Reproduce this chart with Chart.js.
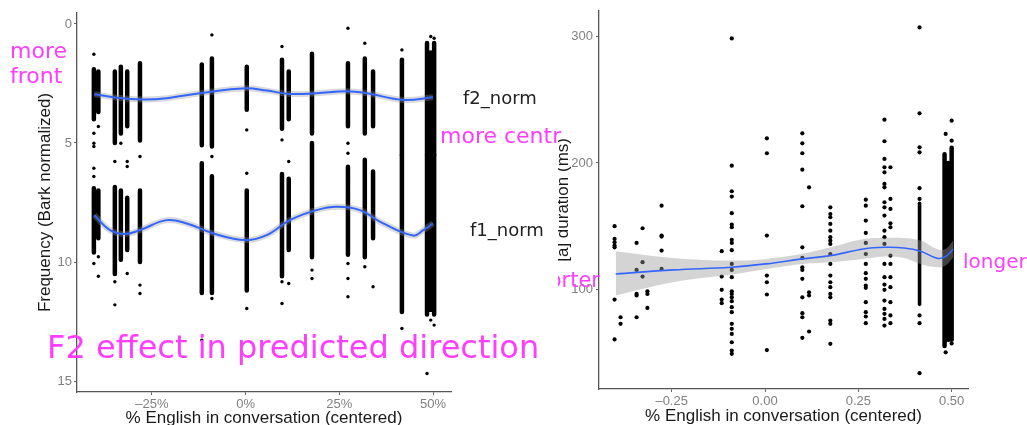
<!DOCTYPE html>
<html>
<head>
<meta charset="utf-8">
<script src="https://cdn.jsdelivr.net/npm/chart.js@4.4.1/dist/chart.umd.min.js"></script>
<style>
  html, body { margin: 0; padding: 0; background: #fff; }
  #wrap { position: relative; width: 1027px; height: 425px; overflow: hidden; }
  #leftBox { position: absolute; left: 0; top: 0; width: 558px; height: 425px; z-index: 2; background: #fff; }
  #rightBox { position: absolute; left: 540px; top: 0; width: 487px; height: 425px; z-index: 1; }
</style>
</head>
<body>
<div id="wrap">
  <div id="rightBox"><canvas id="right" width="487" height="425"></canvas></div>
  <div id="leftBox"><canvas id="left" width="558" height="425"></canvas></div>
</div>
<script>
// ---- left panel: formants (Bark normalized) ----
const leftXTicks = [-0.25, 0, 0.25, 0.5];
const leftXLabels = ['–25%', '0%', '25%', '50%'];
const leftYTicks = [0, 5, 10, 15];

// dense columns of points: [x, from, to]
const f2Bands = [[-0.405,1.9,4.0],[-0.393,2.0,3.7],[-0.349,2.0,5.0],[-0.333,1.8,4.6],[-0.316,2.0,4.3],
  [-0.282,1.65,4.9],[-0.117,1.7,5.1],[-0.09,1.45,5.15],[0.003,1.8,3.6],[0.097,1.5,4.4],[0.115,2.0,4.0],
  [0.177,1.25,4.6],[0.273,1.65,4.3],[0.318,1.45,4.6],[0.34,2.0,4.3],[0.417,1.5,5.5],[0.484,0.8,5.5],
  [0.494,1.2,5.5],[0.503,0.8,5.5]];
const f1Bands = [[-0.405,6.9,9.6],[-0.393,7.0,9.0],[-0.349,6.85,10.5],[-0.333,7.0,9.9],[-0.316,7.3,9.5],
  [-0.282,7.0,10.0],[-0.117,5.85,11.3],[-0.09,6.4,11.3],[0.003,7.0,11.2],[0.097,6.3,10.6],[0.115,6.5,9.5],
  [0.177,5.0,9.8],[0.273,6.0,9.7],[0.318,5.7,9.8],[0.34,6.2,9.0],[0.417,5.5,12.1],[0.484,5.5,12.2],
  [0.494,5.5,12.0],[0.503,5.5,12.2]];
// single points outside the dense parts
const f2Points = [[-0.405,1.27],[-0.393,4.31],[-0.405,4.59],[-0.405,5.01],[-0.405,5.15],[-0.349,5.78],
  [-0.333,5.01],[-0.316,5.78],[-0.316,5.99],[-0.282,5.57],[-0.09,0.46],[-0.09,5.57],[0.003,4.45],
  [0.097,0.95],[0.097,4.87],[0.273,0.18],[0.273,5.01],[0.273,5.43],[0.318,0.81],[0.417,1.09],
  [0.494,0.53],[0.503,0.6]];
const f1Points = [[-0.405,6.06],[-0.405,6.41],[-0.405,10.06],[-0.393,10.6],[-0.393,9.78],[-0.349,10.83],
  [-0.349,11.8],[-0.316,10.48],[-0.282,10.97],[-0.282,11.32],[-0.117,13.28],[-0.09,11.53],[0.003,6.27],
  [0.003,11.95],[0.097,11.74],[0.097,10.83],[0.115,5.78],[0.115,10.9],[0.177,10.34],[0.177,10.69],
  [0.273,10.06],[0.273,10.69],[0.273,11.46],[0.318,10.2],[0.34,11.04],[0.417,12.79],[0.494,12.44],
  [0.503,12.65],[0.484,14.68]];
// loess curves
const f2Smooth = [[-0.404,2.95],[-0.344,3.10],[-0.273,3.17],[-0.211,3.12],[-0.122,2.91],[0.0,2.70],
  [0.056,2.80],[0.118,2.94],[0.189,2.91],[0.269,2.83],[0.323,2.91],[0.42,3.19],[0.50,3.08]];
const f1Smooth = [[-0.404,8.03],[-0.362,8.66],[-0.322,8.82],[-0.282,8.66],[-0.211,8.24],[-0.157,8.38],
  [-0.086,8.80],[0.0,9.08],[0.056,8.87],[0.118,8.24],[0.189,7.82],[0.243,7.68],[0.305,7.82],
  [0.367,8.38],[0.447,8.89],[0.474,8.66],[0.50,8.38]];

// ---- right panel: duration (ms) ----
const rightXTicks = [-0.25, 0, 0.25, 0.5];
const rightXLabels = ['–0.25', '0.00', '0.25', '0.50'];
const rightYTicks = [100, 200, 300];

const durColumns = [
  [-0.403, [149.9,139.8,137.2,134.6,133.2,91.8,60.2]],
  [-0.387, [77.8,72.6]],
  [-0.344, [136.7,115.3,96.3,95.0,77.8]],
  [-0.328, [148.3,121.4,110.0]],
  [-0.315, [98.4,96.3,85.2]],
  [-0.277, [166.2,142.5,141.7,130.6,116.1]],
  [-0.116, [130.1,110.0,99.5,91.8,88.9]],
  [-0.089, [298.7,197.9,177.6,173.4,160.2,151.2,149.1,139.1,136.7,130.9,120.0,115.3,109.5,98.4,96.3,
            93.6,90.5,85.8,81.8,72.6,68.6,64.6,58.0,51.4,48.8]],
  [0.005, [219.5,207.7,142.5,110.8,105.5,95.8,51.8]],
  [0.100, [223.5,215.6,207.7,194.7,165.7,133.2,124.8,117.4,115.3,108.2,93.6,81.0,77.8,61.5]],
  [0.118, [180.7,97.6,95.0,66.5]],
  [0.175, [164.9,159.6,157.0,151.7,146.4,141.2,138.5,135.9,127.9,120.0,110.8,105.5,101.6,96.3,93.6,
           75.2,72.6,56.7]],
  [0.270, [170.9,166.2,154.4,144.6,136.7,127.9,120.0,112.7,108.2,102.9,101.1,89.7,81.8,78.4,73.1]],
  [0.320, [234.3,217.2,203.2,196.6,192.6,183.4,180.7,168.9,164.9,158.3,146.4,141.2,135.9,120.0,109.5,
           103.7,99.5,91.0,84.4,80.5,76.5,71.2]],
  [0.336, [196.6,171.5,163.6,152.2,149.1,126.6,120.0,109.5,101.6,89.7,79.2,73.1]],
  [0.414, [307.4,239.3,212.4,208.4,180.0,171.5,79.2,73.1,33.5]],
  [0.484, [223.0,50.0]],
  [0.500, [233.5,217.7,57.0]]
];
const durMidBands = [[0.414,88,168]];
const durEdgeBands = [[0.481,55,207],[0.491,60,200],[0.500,60,212]];
const durSmooth = [[-0.400,112.1],[-0.246,115.3],[-0.090,117.4],[0.004,120.1],[0.099,124.0],[0.175,126.6],
  [0.264,131.9],[0.321,133.2],[0.372,132.7],[0.417,130.1],[0.461,124.5],[0.484,125.9],[0.504,131.9]];
const durUpper = [[-0.400,130.1],[-0.246,124.8],[-0.090,122.7],[0.004,124.0],[0.099,128.0],[0.175,133.2],
  [0.264,139.8],[0.321,140.6],[0.372,140.6],[0.417,138.5],[0.461,131.9],[0.484,131.9],[0.504,138.5]];
const durLower = [[-0.400,95.0],[-0.246,105.5],[-0.090,111.6],[0.004,116.0],[0.099,120.0],[0.175,121.4],
  [0.264,124.0],[0.321,125.9],[0.372,124.8],[0.417,120.0],[0.461,117.4],[0.484,118.7],[0.504,125.3]];

const MAGENTA = '#ff3dff';
const BLUE = '#3366ff';

const xy = arr => arr.map(([x, y]) => ({x, y}));
const bandData = bands => bands.flatMap(([x, lo, hi]) => [{x, y: lo}, {x, y: hi}, {x, y: null}]);
const colPoints = cols => cols.flatMap(([x, ys]) => ys.map(y => ({x, y})));

// text notes drawn on top of the plot
const notes = items => ({
  id: 'notes',
  afterDraw(chart) {
    const ctx = chart.ctx;
    ctx.save();
    items.forEach(t => {
      ctx.font = t.font;
      ctx.fillStyle = t.color;
      ctx.textAlign = t.align || 'left';
      ctx.textBaseline = 'alphabetic';
      ctx.fillText(t.text, t.x, t.y);
    });
    ctx.restore();
  }
});

const line = (data, color, width) => ({
  data, showLine: true, borderColor: color, borderWidth: width, pointRadius: 0,
  tension: 0.4, fill: false
});
const band = (data, width) => ({
  data, showLine: true, borderColor: '#000', borderWidth: width, borderCapStyle: 'round',
  pointRadius: 0, spanGaps: false, tension: 0
});
const dots = (data, r) => ({
  data, pointRadius: r, pointBackgroundColor: '#000', pointBorderWidth: 0, showLine: false
});

const tickFont = {family: 'Liberation Sans', size: 13};
const titleFont = {family: 'Liberation Sans', size: 17};
const xTitleFont = {family: 'Liberation Sans', size: 17, lineHeight: 0.8};

new Chart(document.getElementById('left'), {
  type: 'scatter',
  data: {
    datasets: [
      line(xy(f2Smooth), BLUE, 2),
      line(xy(f1Smooth), BLUE, 2),
      line(xy(f2Smooth), 'rgba(150,150,150,0.35)', 6),
      line(xy(f1Smooth), 'rgba(150,150,150,0.35)', 6),
      band(bandData(f2Bands), 4.5),
      band(bandData(f1Bands), 4.5),
      dots(xy(f2Points), 1.7),
      dots(xy(f1Points), 1.7)
    ]
  },
  options: {
    responsive: false, animation: false, devicePixelRatio: 1,
    layout: {padding: {top: 13, right: 107, left: 0, bottom: 0}},
    plugins: {legend: {display: false}, tooltip: {enabled: false}},
    scales: {
      x: {
        type: 'linear', min: -0.450, max: 0.548,
        afterBuildTicks: s => { s.ticks = leftXTicks.map(v => ({value: v})); },
        afterFit: s => { s.height = 33; },
        ticks: {callback: (v, i) => leftXLabels[i], font: tickFont, color: '#808080', padding: 2,
                maxRotation: 0, autoSkip: false},
        grid: {drawOnChartArea: false, tickLength: 3, color: '#666'},
        border: {color: '#555', width: 1.3},
        title: {display: true, text: '% English in conversation (centered)', font: xTitleFont,
                color: '#1a1a1a', padding: {top: 0, bottom: 0}}
      },
      y: {
        type: 'linear', reverse: true, min: -0.46, max: 15.46,
        afterBuildTicks: s => { s.ticks = leftYTicks.map(v => ({value: v})); },
        afterFit: s => { s.width = 77; },
        ticks: {font: tickFont, color: '#808080', padding: 2, autoSkip: false},
        grid: {drawOnChartArea: false, tickLength: 3, color: '#666'},
        border: {color: '#555', width: 1.3},
        title: {display: true, text: 'Frequency (Bark normalized)', font: titleFont,
                color: '#1a1a1a', padding: {top: 35, bottom: 0}}
      }
    }
  },
  plugins: [notes([
    {text: 'more', x: 10, y: 58, font: '22px "DejaVu Sans"', color: MAGENTA},
    {text: 'front', x: 10, y: 83, font: '22px "DejaVu Sans"', color: MAGENTA},
    {text: 'f2_norm', x: 463, y: 104, font: '18px "DejaVu Sans"', color: '#222'},
    {text: 'f1_norm', x: 470, y: 236, font: '18px "DejaVu Sans"', color: '#222'},
    {text: 'more centr', x: 440, y: 143, font: '22px "DejaVu Sans"', color: MAGENTA},
    {text: 'F2 effect in predicted direction', x: 47, y: 358, font: '32px "DejaVu Sans"', color: MAGENTA}
  ])]
});

new Chart(document.getElementById('right'), {
  type: 'scatter',
  data: {
    datasets: [
      line(xy(durSmooth), BLUE, 1.6),
      {data: xy(durUpper), showLine: true, borderWidth: 0, pointRadius: 0, tension: 0.4,
       fill: '+1', backgroundColor: 'rgba(153,153,153,0.42)'},
      {data: xy(durLower), showLine: true, borderWidth: 0, pointRadius: 0, tension: 0.4, fill: false},
      band(bandData(durMidBands), 3.6),
      band(bandData(durEdgeBands), 4.5),
      dots(colPoints(durColumns), 2.1)
    ]
  },
  options: {
    responsive: false, animation: false, devicePixelRatio: 1,
    layout: {padding: {top: 10, right: 59, left: 0, bottom: 0}},
    plugins: {legend: {display: false}, tooltip: {enabled: false}},
    scales: {
      x: {
        type: 'linear', min: -0.4447, max: 0.5438,
        afterBuildTicks: s => { s.ticks = rightXTicks.map(v => ({value: v})); },
        afterFit: s => { s.height = 36; },
        ticks: {callback: (v, i) => rightXLabels[i], font: tickFont, color: '#808080', padding: 2,
                maxRotation: 0, autoSkip: false},
        grid: {drawOnChartArea: false, tickLength: 3, color: '#666'},
        border: {color: '#555', width: 1.3},
        title: {display: true, text: '% English in conversation (centered)', font: xTitleFont,
                color: '#1a1a1a', padding: {top: 0, bottom: 2}}
      },
      y: {
        type: 'linear', min: 20.95, max: 320.55,
        afterBuildTicks: s => { s.ticks = rightYTicks.map(v => ({value: v})); },
        afterFit: s => { s.width = 59; },
        ticks: {font: tickFont, color: '#808080', padding: 3, autoSkip: false},
        grid: {drawOnChartArea: false, tickLength: 3, color: '#666'},
        border: {color: '#555', width: 1.3},
        title: {display: true, text: '[a] duration (ms)', font: titleFont,
                color: '#1a1a1a', padding: {top: 13, bottom: 0}}
      }
    }
  },
  plugins: [notes([
    {text: 'more centr', x: -100, y: 143, font: '22px "DejaVu Sans"', color: MAGENTA},
    {text: 'shorter', x: 60, y: 287, font: '21px "DejaVu Sans"', color: MAGENTA, align: 'right'},
    {text: 'longer', x: 423, y: 268, font: '20px "DejaVu Sans"', color: MAGENTA}
  ])]
});
</script>
</body>
</html>
